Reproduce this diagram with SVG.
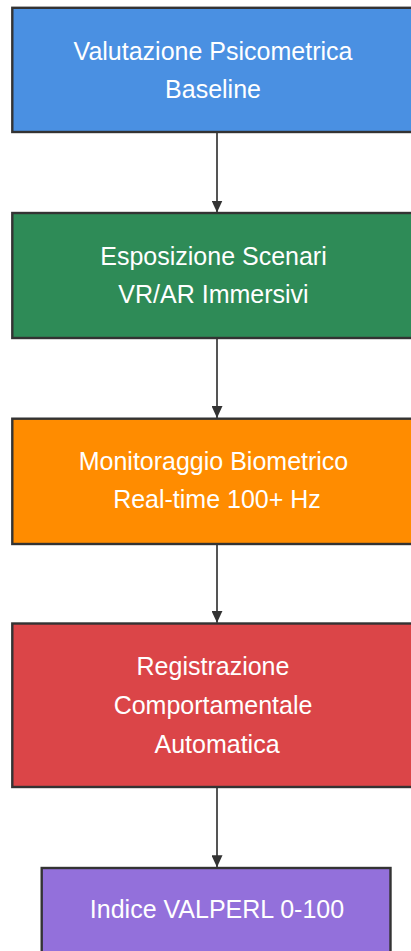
<svg xmlns="http://www.w3.org/2000/svg" width="411" height="951" viewBox="0 0 411 951">
<defs>
<style>
.box{stroke:#333333;stroke-width:2.4}
.lbl{font-family:"Liberation Sans",Arial,sans-serif;font-size:25px;fill:#ffffff;text-anchor:middle}
.edge{stroke:#555555;stroke-width:2;fill:none}
</style>
<marker id="arrow" viewBox="0 0 12 11" refX="12" refY="5.5" markerWidth="12" markerHeight="11" markerUnits="userSpaceOnUse" orient="auto">
<path d="M0,0 L12,5.5 L0,11 Z" fill="#333333"/>
</marker>
</defs>
<rect width="411" height="951" fill="#ffffff"/>
<g id="connectors">
<line class="edge" x1="217" y1="133" x2="217" y2="212.5" marker-end="url(#arrow)"/>
<line class="edge" x1="217" y1="339" x2="217" y2="418" marker-end="url(#arrow)"/>
<line class="edge" x1="217" y1="545" x2="217" y2="622.8" marker-end="url(#arrow)"/>
<line class="edge" x1="217" y1="788" x2="217" y2="867.3" marker-end="url(#arrow)"/>
</g>
<g id="node1">
<rect class="box" x="12.3" y="7.8" width="410" height="124.2" fill="#4A90E2"/>
<text class="lbl" x="213" y="60">Valutazione Psicometrica</text>
<text class="lbl" x="213" y="98.3">Baseline</text>
</g>
<g id="node2">
<rect class="box" x="12.3" y="213" width="410" height="125" fill="#2E8B57"/>
<text class="lbl" x="213.5" y="264.5">Esposizione Scenari</text>
<text class="lbl" x="213.5" y="303">VR/AR Immersivi</text>
</g>
<g id="node3">
<rect class="box" x="12.3" y="418.7" width="410" height="125.3" fill="#FF8C00"/>
<text class="lbl" x="213.5" y="470">Monitoraggio Biometrico</text>
<text class="lbl" x="217" y="508.3">Real-time 100+ Hz</text>
</g>
<g id="node4">
<rect class="box" x="12.3" y="623.5" width="410" height="163.5" fill="#DB4548"/>
<text class="lbl" x="213" y="675">Registrazione</text>
<text class="lbl" x="213" y="714">Comportamentale</text>
<text class="lbl" x="217" y="752.7">Automatica</text>
</g>
<g id="node5">
<rect class="box" x="41.7" y="868" width="348.8" height="90" fill="#9370DB"/>
<text class="lbl" x="217" y="918.3">Indice VALPERL 0-100</text>
</g>
</svg>
